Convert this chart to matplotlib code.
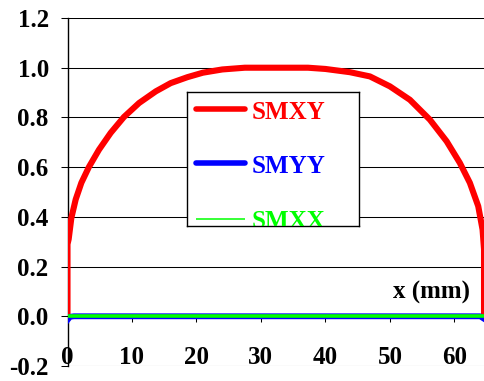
import matplotlib
matplotlib.use("Agg")
import matplotlib.pyplot as plt
import numpy as np

plt.rcParams['font.family'] = ['Liberation Serif', 'DejaVu Serif']
plt.rcParams['font.weight'] = 'bold'

# values
x_smxy = [0, 0, 0.18, 0.6, 1.27, 2.15, 3.33, 4.88, 6.7, 8.76, 11.1, 13.7, 16.0,
          18.6, 21, 24, 27.5, 32, 37.3, 40, 43.8, 46.9, 50.0, 53.1, 56.2, 58.8,
          60.85, 62.4, 63.7, 64.37, 64.6, 64.6]
y_smxy = [0, 0.29, 0.31, 0.396, 0.47, 0.537, 0.601, 0.67, 0.738, 0.802, 0.858,
          0.905, 0.938, 0.962, 0.98, 0.993, 1.0, 1.0, 1.0, 0.995, 0.982, 0.965,
          0.925, 0.871, 0.791, 0.704, 0.617, 0.537, 0.443, 0.349, 0.27, 0.0]
x_smyy = [0, 0.4, 1.0, 32, 64.0, 64.6]
y_smyy = [-0.015, -0.002, 0, 0, 0, -0.01]
x_smxx = [0, 32, 64.6]
y_smxx = [0, 0, 0]

names = ['SMXY', 'SMYY', 'SMXX']
colors = ['#ff0000', '#0000ff', '#00ff00']
yticks = [-0.2, 0.0, 0.2, 0.4, 0.6, 0.8, 1.0, 1.2]
xticks = [0, 10, 20, 30, 40, 50, 60]

W, H = 485, 381
fig = plt.figure(figsize=(W / 100, H / 100), dpi=100)
ax = fig.add_axes([67.5 / W, (H - 366) / H, (W - 67.5) / W, 348 / H])

ax.plot(x_smxy, y_smxy, color=colors[0], lw=4.4, solid_joinstyle='round', zorder=3)
ax.plot(x_smyy, y_smyy, color=colors[1], lw=4.2, zorder=4)
ax.plot(x_smxx, y_smxx, color=colors[2], lw=2.6, zorder=5)

ax.set_xlim(0, 64.75)
ax.set_ylim(-0.2, 1.2)
ax.set_yticks(yticks)
ax.set_yticklabels(['%.1f' % v for v in yticks])
ax.set_xticks(xticks)
ax.set_xticklabels([str(v) for v in xticks])
ax.yaxis.grid(True, color='black', lw=0.75)
ax.set_axisbelow(True)

for s in ['top', 'right']:
    ax.spines[s].set_visible(False)
ax.spines['bottom'].set_position(('data', 0))
ax.spines['left'].set_linewidth(1.0)
ax.spines['bottom'].set_linewidth(1.0)
ax.tick_params(axis='y', direction='out', length=5, width=0.75, pad=8.5, labelsize=18)
ax.tick_params(axis='x', direction='out', length=4.5, width=0.75, pad=17, labelsize=18)
for lab in ax.get_xticklabels() + ax.get_yticklabels():
    lab.set_fontweight('bold')

ax.text(56.5, 0.095, 'x (mm)', fontsize=18, fontweight='bold', ha='center', va='center')

# legend drawn by hand so the last entry can be clipped like the original
lg = fig.add_axes([187 / W, (H - 226) / H, 172 / W, 134 / H], zorder=10)
lg.set_xlim(0, 172)
lg.set_ylim(134, 0)
lg.set_xticks([])
lg.set_yticks([])
for s in lg.spines.values():
    s.set_color('black')
    s.set_linewidth(1.0)
handle_y = [17.3, 70.7, 127]
base_y = [27.3, 81.3, 136.5]
handle_w = [4.0, 4.0, 1.1]
for i in range(3):
    lg.plot([9, 58], [handle_y[i], handle_y[i]], color=colors[i], lw=handle_w[i],
            solid_capstyle='round' if i < 2 else 'butt', clip_on=True)
    lg.text(64.7, base_y[i], names[i], color=colors[i], fontsize=18,
            fontweight='bold', va='baseline', ha='left', clip_on=True)

fig.savefig('out.png', dpi=100)
